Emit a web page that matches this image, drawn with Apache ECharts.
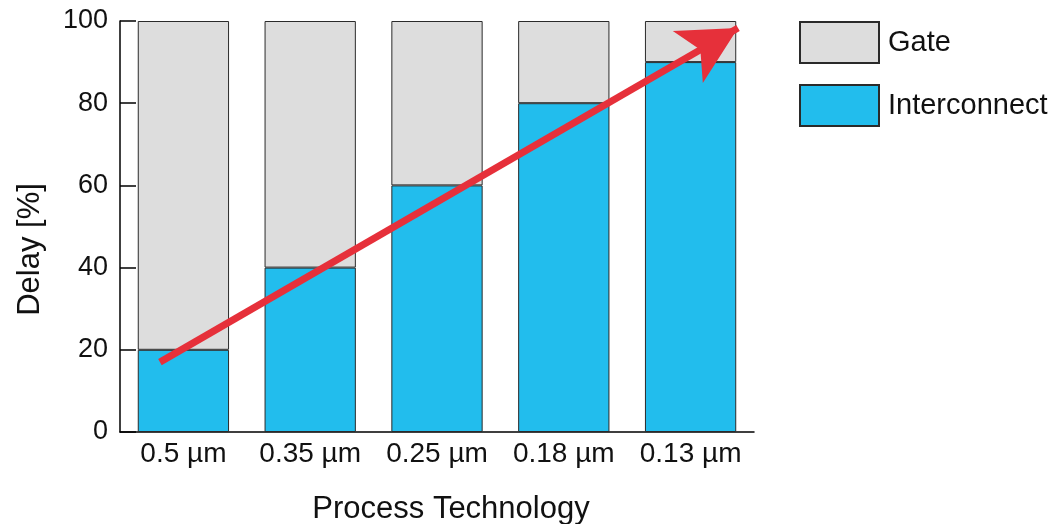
<!DOCTYPE html>
<html>
<head>
<meta charset="utf-8">
<script src="https://cdn.jsdelivr.net/npm/echarts@6/dist/echarts.min.js"></script>
<style>
  html, body { margin: 0; padding: 0; background: #fff; }
  #chart { width: 1055px; height: 524px; }
</style>
</head>
<body>
<div id="chart"></div>
<script>
// Share of total delay per process node
const categories = ['0.5 \u00b5m', '0.35 \u00b5m', '0.25 \u00b5m', '0.18 \u00b5m', '0.13 \u00b5m'];
const interconnectDelay = [20, 40, 60, 80, 90];
const gateDelay = [80, 60, 40, 20, 10];
const yTicks = [0, 20, 40, 60, 80, 100];

// Trend arrow end points, in (category index, percent)
const trendStart = [-0.185, 17];
const trendEnd = [4.374, 98.3];

const FONT = '"Liberation Sans", Arial, Helvetica, sans-serif';
const TEXT = '#111';
const EDGE = '#2a2a2a';

const chart = echarts.init(document.getElementById('chart'), null, { renderer: 'canvas' });

chart.setOption({
  animation: false,
  textStyle: { fontFamily: FONT },
  grid: { left: 120, right: 301, top: 21, bottom: 92, containLabel: false, outerBoundsMode: 'none' },
  legend: {
    data: ['Gate', 'Interconnect'],
    orient: 'vertical',
    left: 799,
    top: 21,
    icon: 'rect',
    itemWidth: 79,
    itemHeight: 41,
    itemGap: 20,
    padding: 0,
    textStyle: { fontSize: 29, color: TEXT, fontFamily: FONT, padding: [0, 0, 0, 4] },
    selectedMode: false
  },
  xAxis: [
    {
      type: 'category',
      data: categories,
      axisLine: { lineStyle: { color: '#000', width: 1.5 } },
      axisTick: { show: false },
      axisLabel: { fontSize: 28, color: TEXT, margin: 8, fontFamily: FONT, interval: 0, hideOverlap: false },
      name: 'Process Technology',
      nameLocation: 'middle',
      nameGap: 62,
      nameTextStyle: { fontSize: 31, color: TEXT, fontFamily: FONT, padding: [0, 0, 0, 28] }
    },
    {
      type: 'value',
      min: -0.5,
      max: categories.length - 0.5,
      show: false
    }
  ],
  yAxis: {
    type: 'value',
    min: yTicks[0],
    max: yTicks[yTicks.length - 1],
    interval: yTicks[1] - yTicks[0],
    axisLine: { show: true, onZero: false, lineStyle: { color: '#000', width: 1.5 } },
    axisTick: { show: true, inside: true, length: 16, lineStyle: { color: '#000', width: 1.5 } },
    axisLabel: { fontSize: 27, color: TEXT, margin: 12, fontFamily: FONT },
    splitLine: { show: false },
    name: 'Delay [%]',
    nameLocation: 'middle',
    nameGap: 74,
    nameRotate: 90,
    nameTextStyle: { fontSize: 31, color: TEXT, fontFamily: FONT, padding: [0, 46, 0, 0] }
  },
  series: [
    {
      name: 'Interconnect',
      type: 'bar',
      stack: 'delay',
      data: interconnectDelay,
      barWidth: '72%',
      itemStyle: { color: '#22bded', borderColor: EDGE, borderWidth: 1 }
    },
    {
      name: 'Gate',
      type: 'bar',
      stack: 'delay',
      data: gateDelay,
      barWidth: '72%',
      itemStyle: { color: '#dddddd', borderColor: EDGE, borderWidth: 1 }
    },
    {
      name: 'trend',
      type: 'line',
      xAxisIndex: 1,
      data: [],
      silent: true,
      markLine: {
        silent: true,
        symbol: ['none', 'arrow'],
        symbolSize: [45, 58],
        label: { show: false },
        lineStyle: { color: '#e6303a', width: 7, type: 'solid' },
        emphasis: { disabled: true },
        data: [[{ coord: trendStart }, { coord: trendEnd }]]
      }
    }
  ]
});
</script>
</body>
</html>
